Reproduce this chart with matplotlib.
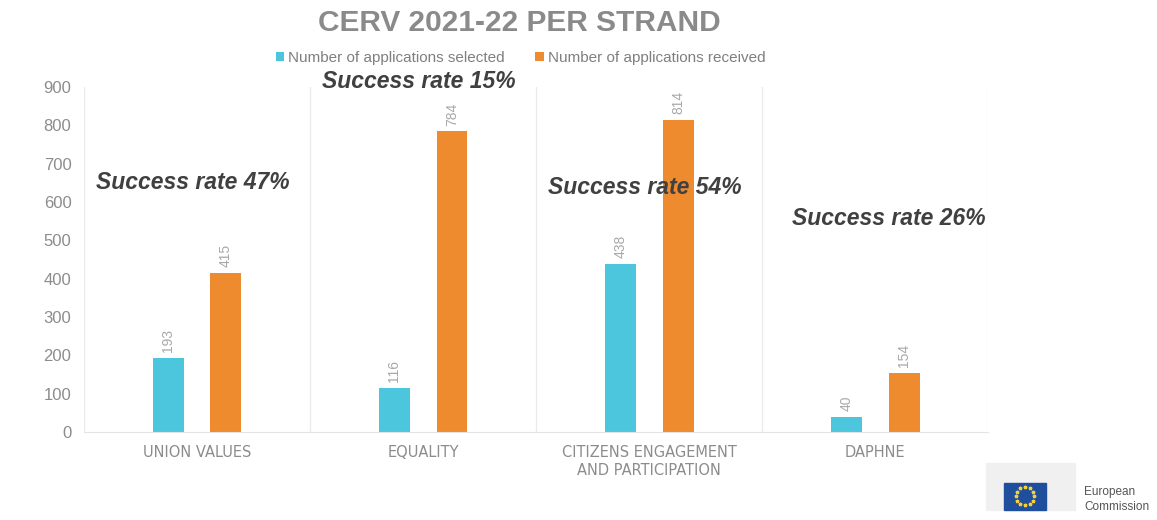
import numpy as np
import matplotlib
matplotlib.use("Agg")
import matplotlib.pyplot as plt
from matplotlib.patches import Rectangle

plt.rcParams['font.family'] = ['Liberation Sans', 'DejaVu Sans']

# data
strands = ["UNION VALUES", "EQUALITY", "CITIZENS ENGAGEMENT\nAND PARTICIPATION", "DAPHNE"]
selected = [193, 116, 438, 40]
received = [415, 784, 814, 154]
rates = ["Success rate 47%", "Success rate 15%", "Success rate 54%", "Success rate 26%"]
rate_x = [-0.02, -0.02, -0.02, 0.06]
rate_y = [650, 914, 637, 556]

c_sel = "#4BC6DD"
c_rec = "#EE8B2F"
grey = "#8C8C8C"

fig = plt.figure(figsize=(11.57, 5.2), dpi=100)
ax = fig.add_axes([0.0726, 0.169, 0.7815, 0.664])

x = np.arange(len(strands))
w = 0.137
off = 0.128
b1 = ax.bar(x - off, selected, w, color=c_sel, label="Number of applications selected")
b2 = ax.bar(x + off, received, w, color=c_rec, label="Number of applications received")

for bars, vals in [(b1, selected), (b2, received)]:
    for b, v in zip(bars, vals):
        ax.text(b.get_x() + b.get_width() / 2, v + 15, str(v), rotation=90,
                ha="center", va="bottom", color="#A8A8A8", fontsize=10)

for i, t in enumerate(rates):
    ax.text(x[i] + rate_x[i], rate_y[i], t, ha="center", va="center", fontsize=16.5,
            fontweight="bold", style="italic", color="#404040", clip_on=False)

ax.set_xlim(-0.5, len(strands) - 0.5)
ax.set_ylim(0, 900)
ax.set_yticks(range(0, 901, 100))
ax.set_xticks(x)
ax.set_xticklabels(strands, fontsize=10.5, color=grey, linespacing=1.25,
                   family="DejaVu Sans")
ax.tick_params(axis="y", colors=grey, labelsize=12, length=0, pad=9)
ax.tick_params(axis="x", length=0, pad=9)
for s in ["top", "right", "left"]:
    ax.spines[s].set_visible(False)
ax.spines["bottom"].set_color("#E3E3E3")
for b in np.arange(-0.5, len(strands), 1.0):
    ax.axvline(b, color="#EBEBEB", lw=1, zorder=0)

fig.text(0.449, 0.955, "CERV 2021-22 PER STRAND", ha="center", va="center",
         fontsize=21.5, fontweight="bold", color="#8A8A8A")
fig.legend(loc="center", bbox_to_anchor=(0.45, 0.888), ncol=2, frameon=False,
           fontsize=11, handlelength=0.55, handleheight=0.55, handletextpad=0.25,
           columnspacing=2.0, labelcolor="#7F7F7F")

# logo
fig.patches.append(Rectangle((0.852, 0.02), 0.077, 0.09, transform=fig.transFigure,
                             color="#F0F0F0", zorder=0))
fig.patches.append(Rectangle((0.868, 0.02), 0.036, 0.052, transform=fig.transFigure,
                             color="#1F4E9C", zorder=1))
ang = np.linspace(0, 2 * np.pi, 12, endpoint=False)
fig.lines.append(plt.Line2D(0.886 + 0.008 * np.cos(ang), 0.046 + 0.017 * np.sin(ang),
                            transform=fig.transFigure, ls="none", marker="*",
                            ms=2.5, color="#F4D03F"))
fig.text(0.937, 0.053, "European", fontsize=8.5, color="#555555", va="center")
fig.text(0.937, 0.025, "Commission", fontsize=8.5, color="#555555", va="center")

fig.savefig("out.png", dpi=100)
